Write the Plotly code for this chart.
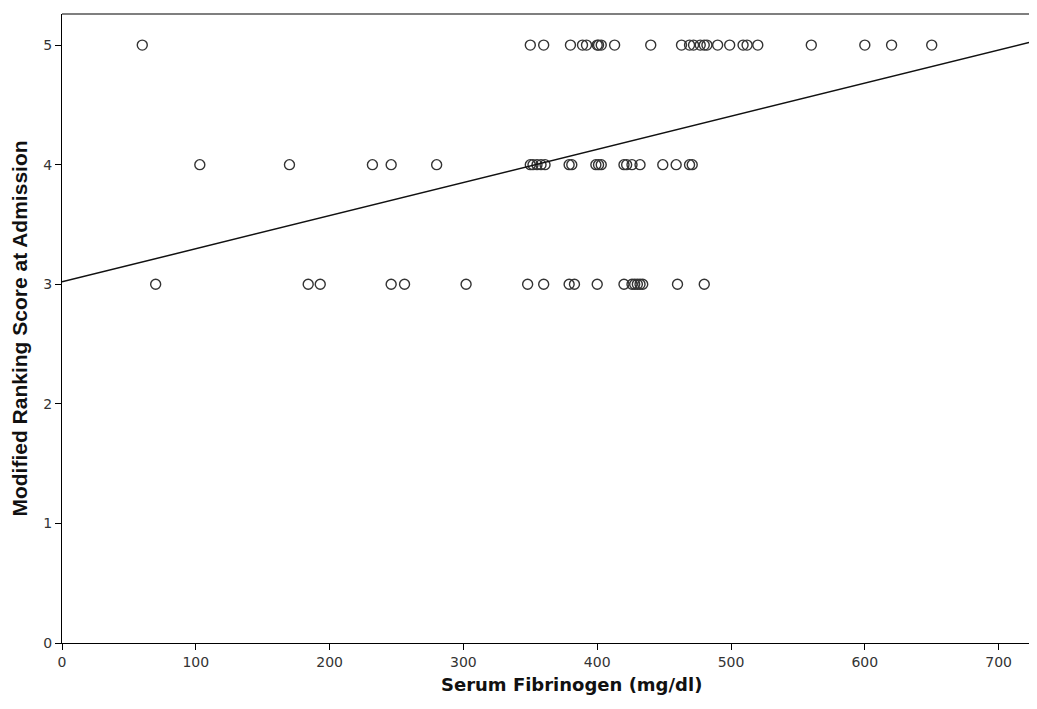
import plotly.graph_objects as go

# Serum fibrinogen (mg/dl) values grouped by Modified Ranking Score
fib_score5 = [60, 350, 360, 380, 389, 392, 400, 401, 403, 413, 440, 463, 469, 472, 477, 480, 482,
              490, 499, 509, 512, 520, 560, 600, 620, 650]
fib_score4 = [103, 170, 232, 246, 280, 350, 352, 355, 358, 361, 379, 381, 399, 401, 403, 420, 422,
              426, 432, 449, 459, 469, 471]
fib_score3 = [70, 184, 193, 246, 256, 302, 348, 360, 379, 383, 400, 420, 426, 428, 430, 432, 434,
              460, 480]

fit_intercept = 3.02
fit_slope = 0.00277

x_vals = fib_score5 + fib_score4 + fib_score3
y_vals = [5] * len(fib_score5) + [4] * len(fib_score4) + [3] * len(fib_score3)

x_max = 722.7
y_max = 5.26

fig = go.Figure()
fig.add_trace(go.Scatter(
    x=x_vals, y=y_vals, mode="markers",
    marker=dict(symbol="circle-open", size=10, color="#333333", line=dict(width=1.4, color="#333333")),
    showlegend=False, hoverinfo="x+y"))
fig.add_trace(go.Scatter(
    x=[0, x_max], y=[fit_intercept, fit_intercept + fit_slope * x_max], mode="lines",
    line=dict(color="#111111", width=1.5), showlegend=False, hoverinfo="skip"))

# top frame line
fig.add_shape(type="line", xref="paper", yref="paper", x0=0, x1=1, y0=1, y1=1,
              line=dict(color="#000000", width=1.2))

# x-axis title (slightly right of centre, as in the reference)
fig.add_annotation(text="<b>Serum Fibrinogen (mg/dl)</b>", xref="paper", yref="paper",
                   x=0.527, y=0, xanchor="center", yanchor="top", yshift=-29, showarrow=False,
                   font=dict(family="DejaVu Sans, sans-serif", size=18, color="#111111"))

tick_family = "DejaVu Sans, sans-serif"
axis_common = dict(showgrid=False, zeroline=False, showline=True, linecolor="#000000", linewidth=1.2,
                   ticks="outside", ticklen=6, tickcolor="#000000", tickwidth=1, mirror=False,
                   tickfont=dict(family=tick_family, size=14, color="#333333"))

fig.update_layout(
    width=1021, height=693,
    margin=dict(l=54, r=0, t=6, b=58),
    paper_bgcolor="white", plot_bgcolor="white",
    xaxis=dict(range=[0, x_max], tickvals=[0, 100, 200, 300, 400, 500, 600, 700], **axis_common),
    yaxis=dict(range=[0, y_max], tickvals=[0, 1, 2, 3, 4, 5],
               title=dict(text="<b>Modified Ranking Score at Admission</b>", standoff=12,
                          font=dict(family="Liberation Sans, Arial, sans-serif",
                                    size=21, color="#111111")),
               **axis_common),
)

fig.write_html("out.html")
